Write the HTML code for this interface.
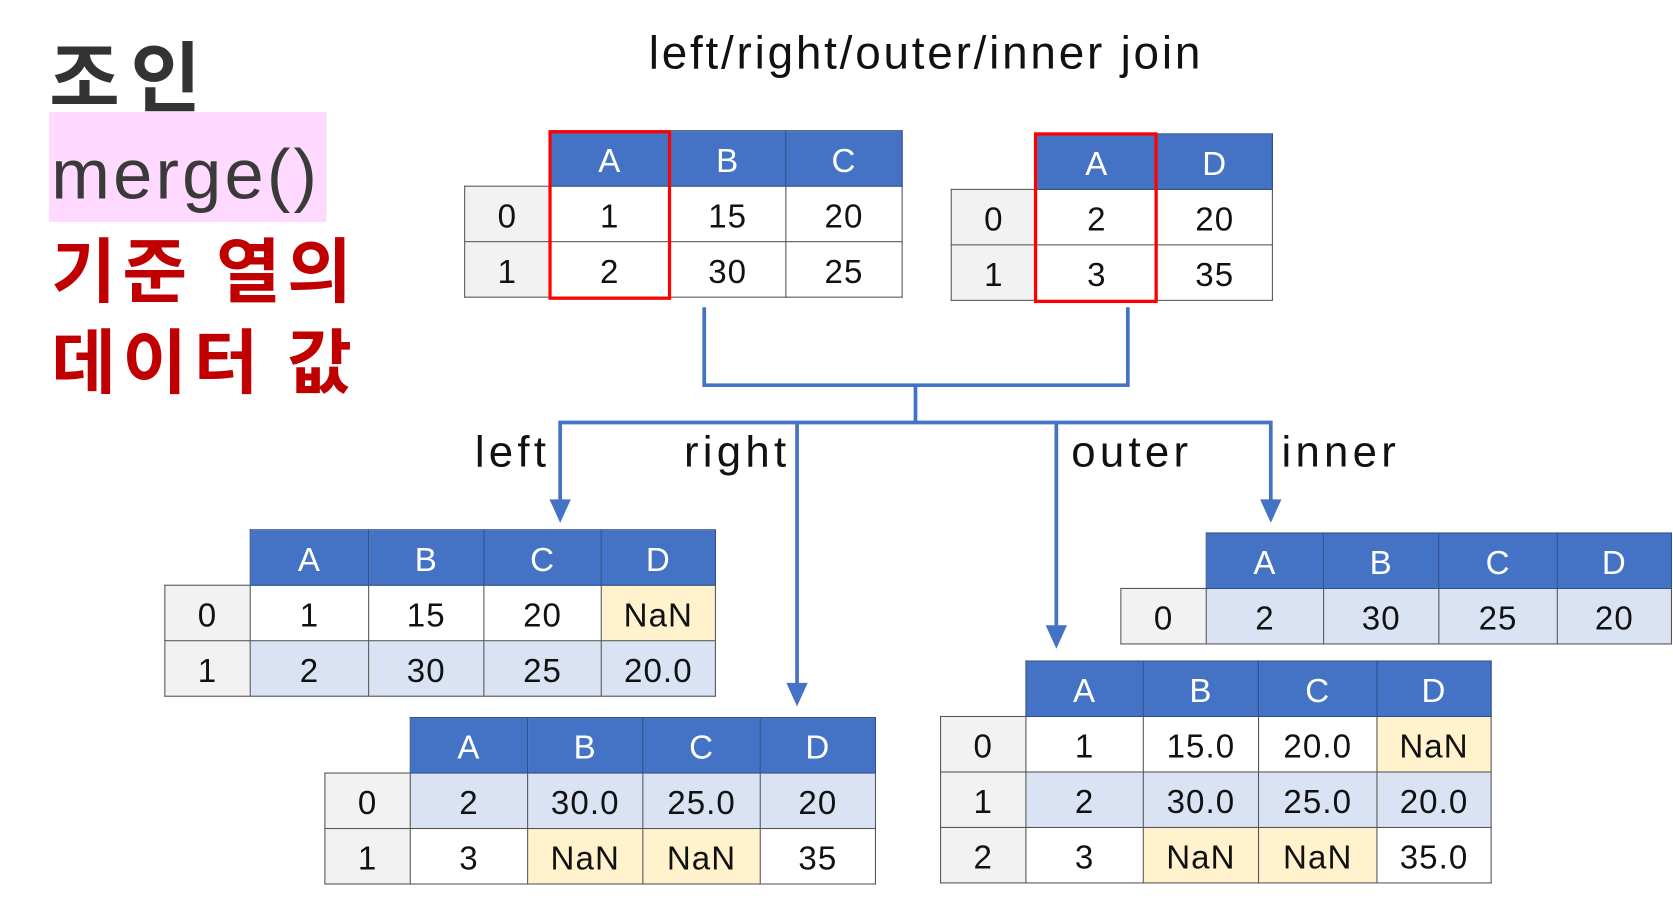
<!DOCTYPE html>
<html><head><meta charset="utf-8"><style>
html,body{margin:0;padding:0;background:#fff;width:1673px;height:900px;overflow:hidden}
#w{position:absolute;left:0;top:0;width:1568px;height:844px;transform:scale(1.067);transform-origin:0 0;font-family:"Liberation Sans","Noto Sans CJK KR",sans-serif}
.a{position:absolute;white-space:nowrap}
table{position:absolute;border-collapse:collapse;table-layout:fixed}
td{border:1px solid #555;text-align:center;font-size:31px;color:#111;padding:5px 0 0 0;height:46px;background:#fff;letter-spacing:1px}
td.e{border:none;background:transparent}
td.h{background:#4472c4;color:#fff;border-color:#2f4f8a}
td.i{background:#f2f2f2}
td.b{background:#dae3f3}
td.y{background:#fff2cc}
.red{position:absolute;border:3px solid #ff0000;box-sizing:border-box}
.lb{font-size:41px;line-height:50px;letter-spacing:4px;color:#111}
</style></head><body><div id="w">
<div class="a" style="left:46px;top:18px;font-size:72px;font-weight:bold;color:#333;font-family:'Noto Sans CJK KR',sans-serif;line-height:100px;letter-spacing:10px">조인</div>
<div class="a" style="left:46px;top:105px;width:260px;height:103px;background:#ffd9ff"></div>
<div class="a" style="left:48px;top:118px;font-size:66px;color:#3a3a3a;line-height:90px;letter-spacing:3px">merge()</div>
<div class="a" style="left:48px;top:205px;font-size:66px;font-weight:bold;color:#c00000;font-family:'Noto Sans CJK KR',sans-serif;line-height:90px;letter-spacing:6px">기준 열의</div>
<div class="a" style="left:48px;top:290px;font-size:66px;font-weight:bold;color:#c00000;font-family:'Noto Sans CJK KR',sans-serif;line-height:90px;letter-spacing:6px">데이터 값</div>
<div class="a" style="left:608px;top:22px;font-size:43px;color:#111;line-height:56px;letter-spacing:2.6px">left/right/outer/inner join</div>

<svg class="a" style="left:0;top:0" width="1568" height="844">
<g stroke="#4472c4" stroke-width="3.5" fill="none">
<polyline points="660,288 660,361 1057,361 1057,288"/>
<line x1="858" y1="361" x2="858" y2="396"/>
<polyline points="525,470 525,396 1191,396 1191,470"/>
<line x1="747" y1="396" x2="747" y2="642"/>
<line x1="990" y1="396" x2="990" y2="588"/>
</g>
<g fill="#4472c4">
<polygon points="515,468 535,468 525,490"/>
<polygon points="1181,468 1201,468 1191,490"/>
<polygon points="737,640 757,640 747,662"/>
<polygon points="980,586 1000,586 990,608"/>
</g>
</svg>
<div class="a lb" style="left:445px;top:398px">left</div>
<div class="a lb" style="left:641px;top:398px">right</div>
<div class="a lb" style="left:1004px;top:398px">outer</div>
<div class="a lb" style="left:1201px;top:398px">inner</div>

<table style="left:435px;top:122px;width:410px"><colgroup><col style="width:80px"><col style="width:112px"><col style="width:109px"><col style="width:109px"></colgroup>
<tr><td class="e"></td><td class="h">A</td><td class="h">B</td><td class="h">C</td></tr>
<tr><td class="i">0</td><td>1</td><td>15</td><td>20</td></tr>
<tr><td class="i">1</td><td>2</td><td>30</td><td>25</td></tr></table>
<div class="red" style="left:514px;top:122px;width:115px;height:159px"></div>

<table style="left:891px;top:125px;width:301px"><colgroup><col style="width:80px"><col style="width:113px"><col style="width:108px"></colgroup>
<tr><td class="e"></td><td class="h">A</td><td class="h">D</td></tr>
<tr><td class="i">0</td><td>2</td><td>20</td></tr>
<tr><td class="i">1</td><td>3</td><td>35</td></tr></table>
<div class="red" style="left:969px;top:124px;width:116px;height:160px"></div>

<table style="left:154px;top:496px;width:516px"><colgroup><col style="width:80px"><col style="width:111px"><col style="width:108px"><col style="width:110px"><col style="width:107px"></colgroup>
<tr><td class="e"></td><td class="h">A</td><td class="h">B</td><td class="h">C</td><td class="h">D</td></tr>
<tr><td class="i">0</td><td>1</td><td>15</td><td>20</td><td class="y">NaN</td></tr>
<tr><td class="i">1</td><td class="b">2</td><td class="b">30</td><td class="b">25</td><td class="b">20.0</td></tr></table>

<table style="left:304px;top:672px;width:516px"><colgroup><col style="width:80px"><col style="width:110px"><col style="width:108px"><col style="width:110px"><col style="width:108px"></colgroup>
<tr><td class="e"></td><td class="h">A</td><td class="h">B</td><td class="h">C</td><td class="h">D</td></tr>
<tr><td class="i">0</td><td class="b">2</td><td class="b">30.0</td><td class="b">25.0</td><td class="b">20</td></tr>
<tr><td class="i">1</td><td>3</td><td class="y">NaN</td><td class="y">NaN</td><td>35</td></tr></table>

<table style="left:881px;top:619px;width:516px"><colgroup><col style="width:80px"><col style="width:110px"><col style="width:108px"><col style="width:111px"><col style="width:107px"></colgroup>
<tr><td class="e"></td><td class="h">A</td><td class="h">B</td><td class="h">C</td><td class="h">D</td></tr>
<tr><td class="i">0</td><td>1</td><td>15.0</td><td>20.0</td><td class="y">NaN</td></tr>
<tr><td class="i">1</td><td class="b">2</td><td class="b">30.0</td><td class="b">25.0</td><td class="b">20.0</td></tr>
<tr><td class="i">2</td><td>3</td><td class="y">NaN</td><td class="y">NaN</td><td>35.0</td></tr></table>

<table style="left:1050px;top:499px;width:516px"><colgroup><col style="width:80px"><col style="width:110px"><col style="width:108px"><col style="width:111px"><col style="width:107px"></colgroup>
<tr><td class="e"></td><td class="h">A</td><td class="h">B</td><td class="h">C</td><td class="h">D</td></tr>
<tr><td class="i">0</td><td class="b">2</td><td class="b">30</td><td class="b">25</td><td class="b">20</td></tr></table>
</div></body></html>
